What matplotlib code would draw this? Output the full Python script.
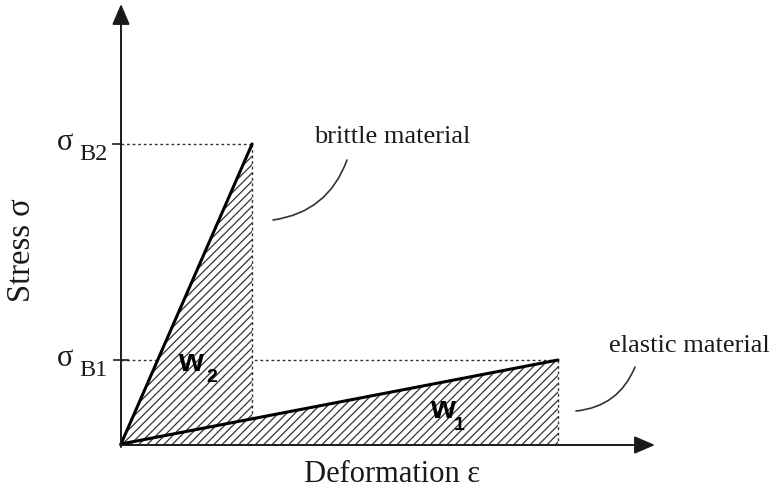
import matplotlib
matplotlib.use("Agg")
import matplotlib.pyplot as plt
from matplotlib.patches import Polygon
from matplotlib import transforms

# Stress-strain data for the two materials (arbitrary units)
materials = ["brittle material", "elastic material"]
fracture_strain = [0.30, 1.0]     # strain at break
fracture_stress = [1.0, 0.28]     # sigma_B2 (brittle), sigma_B1 (elastic)
stress_tick_subs = ["B2", "B1"]
work_subs = ["2", "1"]

W, H = 776, 490
plt.rcParams["hatch.linewidth"] = 0.9
fig = plt.figure(figsize=(W / 100, H / 100), dpi=100)
ax = fig.add_axes([0, 0, 1, 1])
ax.set_axis_off()

# origin placement and scale of the drawing
x0, y0 = 121, 444
sx, sy = 437, 300
ax.set_xlim(-x0 / sx, (W - x0) / sx)
ax.set_ylim(-(H - y0) / sy, y0 / sy)

# pixel transform (top-left origin) for labels
px = transforms.Affine2D().scale(1, -1).translate(0, H)

serif = "Liberation Serif"
sans = "Liberation Sans"
ink = "#1a1a1a"

eb, ee = fracture_strain
sb, se = fracture_stress

# hatched work areas (brittle and elastic)
for eps, sig in zip(fracture_strain, fracture_stress):
    poly = Polygon([(0, 0), (eps, sig), (eps, 0)], closed=True,
                   facecolor="white", edgecolor="#333333", linewidth=0,
                   hatch="////", zorder=2)
    ax.add_patch(poly)

dot = dict(color="#333333", lw=1.0, linestyle=(0, (2, 2)))
# horizontal guide lines at the fracture stresses
ax.plot([0, eb], [sb, sb], zorder=1, **dot)
ax.plot([0, ee], [se, se], zorder=1, **dot)
# vertical guide lines at the fracture strains
ax.plot([eb, eb], [sb, se * eb / ee], zorder=3, **dot)
ax.plot([ee, ee], [se, 0], zorder=3, **dot)

# stress-strain lines
for eps, sig in zip(fracture_strain, fracture_stress):
    ax.plot([0, eps], [0, sig], color="black", lw=2.2, zorder=4,
            solid_capstyle="round")

# axes with arrow heads
arrow = dict(arrowstyle="-|>,head_length=0.7,head_width=0.3", lw=1.4,
             color=ink, mutation_scale=18, shrinkA=0, shrinkB=0)
ax.annotate("", xy=(0, (y0 - 4) / sy), xytext=(0, -3 / sy),
            arrowprops=arrow, zorder=5)
ax.annotate("", xy=((655 - x0) / sx, -1 / sy), xytext=(-1 / sx, -1 / sy),
            arrowprops=arrow, zorder=5)

# small ticks at the fracture stresses
ax.plot([-8 / sx, 0], [sb, sb], color=ink, lw=1.2, zorder=5)
ax.plot([-7 / sx, 7 / sx], [se, se], color=ink, lw=1.2, zorder=5)

# tick labels sigma_B2, sigma_B1
for sig, sub in zip(fracture_stress, stress_tick_subs):
    ax.annotate(sub, xy=(-13 / sx, sig), xytext=(0, -16), textcoords="offset pixels",
                ha="right", va="baseline", fontsize=17.5, family=serif, color=ink)
    ax.annotate("σ", xy=(-56 / sx, sig), xytext=(0, -6), textcoords="offset pixels",
                ha="center", va="baseline", fontsize=22, family=serif, color=ink)

# axis titles
ax.text(22, 250, "Stress σ", transform=px, rotation=90, ha="center",
        va="center", fontsize=23.5, family=serif, color=ink)
ax.text(392, 482, "Deformation ε", transform=px, ha="center", va="baseline",
        fontsize=22, family=serif, color=ink)

# material annotations with curved leader lines
ax.text(392, 143, materials[0], transform=px, ha="center", va="baseline",
        fontsize=19, family=serif, color=ink)
ax.text(689, 352, materials[1], transform=px, ha="center", va="baseline",
        fontsize=19, family=serif, color=ink)
leader = dict(arrowstyle="-", color="#333333", lw=1.2, shrinkA=0, shrinkB=0,
              connectionstyle="arc3,rad=-0.3")
ax.annotate("", xy=(273, 220), xycoords=px, xytext=(347, 160),
            textcoords=px, arrowprops=leader)
ax.annotate("", xy=(576, 411), xycoords=px, xytext=(635, 367),
            textcoords=px, arrowprops=leader)

# work labels inside the hatched areas
for (wx, wy, nx, ny), sub in zip([(191, 371, 212, 382), (443, 418, 459, 430)],
                                 work_subs):
    ax.text(wx, wy, "w", transform=px, ha="center", va="baseline",
            fontsize=23, family=sans, weight="bold", color="black", zorder=6)
    ax.text(nx, ny, sub, transform=px, ha="center", va="baseline",
            fontsize=14, family=sans, weight="bold", color="black", zorder=6)

fig.savefig("out.png", dpi=100)
